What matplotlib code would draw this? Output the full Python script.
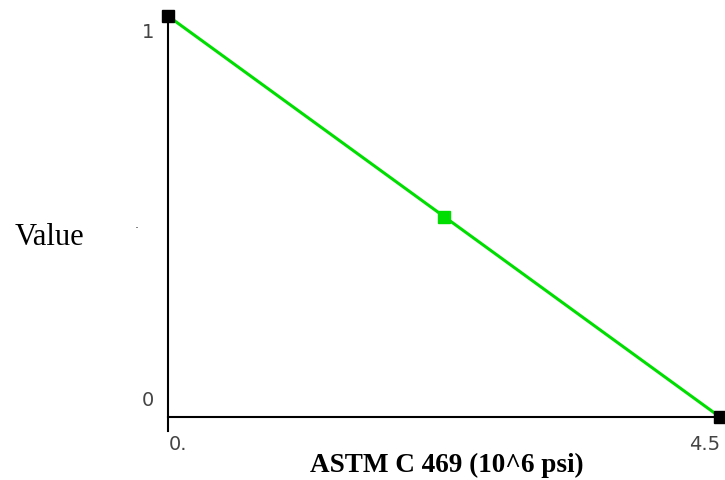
import matplotlib
matplotlib.use("Agg")
import matplotlib.pyplot as plt

# data
x_vals = [0.0, 2.25, 4.5]
y_vals = [1.0, 0.5, 0.0]
marker_cols = ["black", "#00dd00", "black"]
xtick_pos = [0.0, 4.5]
xtick_txt = ["0.", "4.5"]
ytick_pos = [0.0, 1.0]
ytick_txt = ["0", "1"]

fig = plt.figure(figsize=(7.25, 4.8), dpi=100)
ax = fig.add_axes([168/725, 63/480, 552/725, 401/480])
ax.set_xlim(0, 4.5)
ax.set_ylim(0, 1)
for s in ax.spines.values():
    s.set_visible(False)
ax.set_xticks([])
ax.set_yticks([])

# axis lines (y axis runs a bit below the x axis)
ax.plot([0, 0], [-0.035, 1], color="black", lw=1.5, clip_on=False, zorder=2)
ax.plot([0, 4.5], [0, 0], color="black", lw=1.5, clip_on=False, zorder=2)

# the line + markers
ax.plot(x_vals, y_vals, color="#00dd00", lw=2.2, clip_on=False, zorder=3)
for xv, yv, c in zip(x_vals, y_vals, marker_cols):
    ax.plot([xv], [yv], marker="s", ms=8.5, color=c, mec=c, clip_on=False, zorder=4)

# tick labels, placed like the original
tick_font = dict(family="DejaVu Sans", size=14, color="#444444")
for yp, t in zip(ytick_pos, ytick_txt):
    dy = 16 if yp == 0 else -17
    ax.annotate(t, xy=(0, yp), xytext=(-14, dy), textcoords="offset pixels",
                ha="right", va="center", annotation_clip=False, **tick_font)
for xp, t in zip(xtick_pos, xtick_txt):
    ha = "left" if xp == 0 else "right"
    ax.annotate(t, xy=(xp, 0), xytext=(1 if xp == 0 else 0, -28), textcoords="offset pixels",
                ha=ha, va="center", annotation_clip=False, **tick_font)

fig.text(15/725, (480-245)/480, "Value", family="Liberation Serif", size=22,
         ha="left", va="baseline")
fig.text(447/725, 8/480, "ASTM C 469 (10^6 psi)", family="Liberation Serif", size=19.5,
         weight="bold", ha="center", va="baseline")
# stray little dot left of the axis
fig.text(137/725, (480-229)/480, "\u00b7", size=9, color="#333333", ha="center", va="center")

fig.savefig("out.png", dpi=100, facecolor="white")
